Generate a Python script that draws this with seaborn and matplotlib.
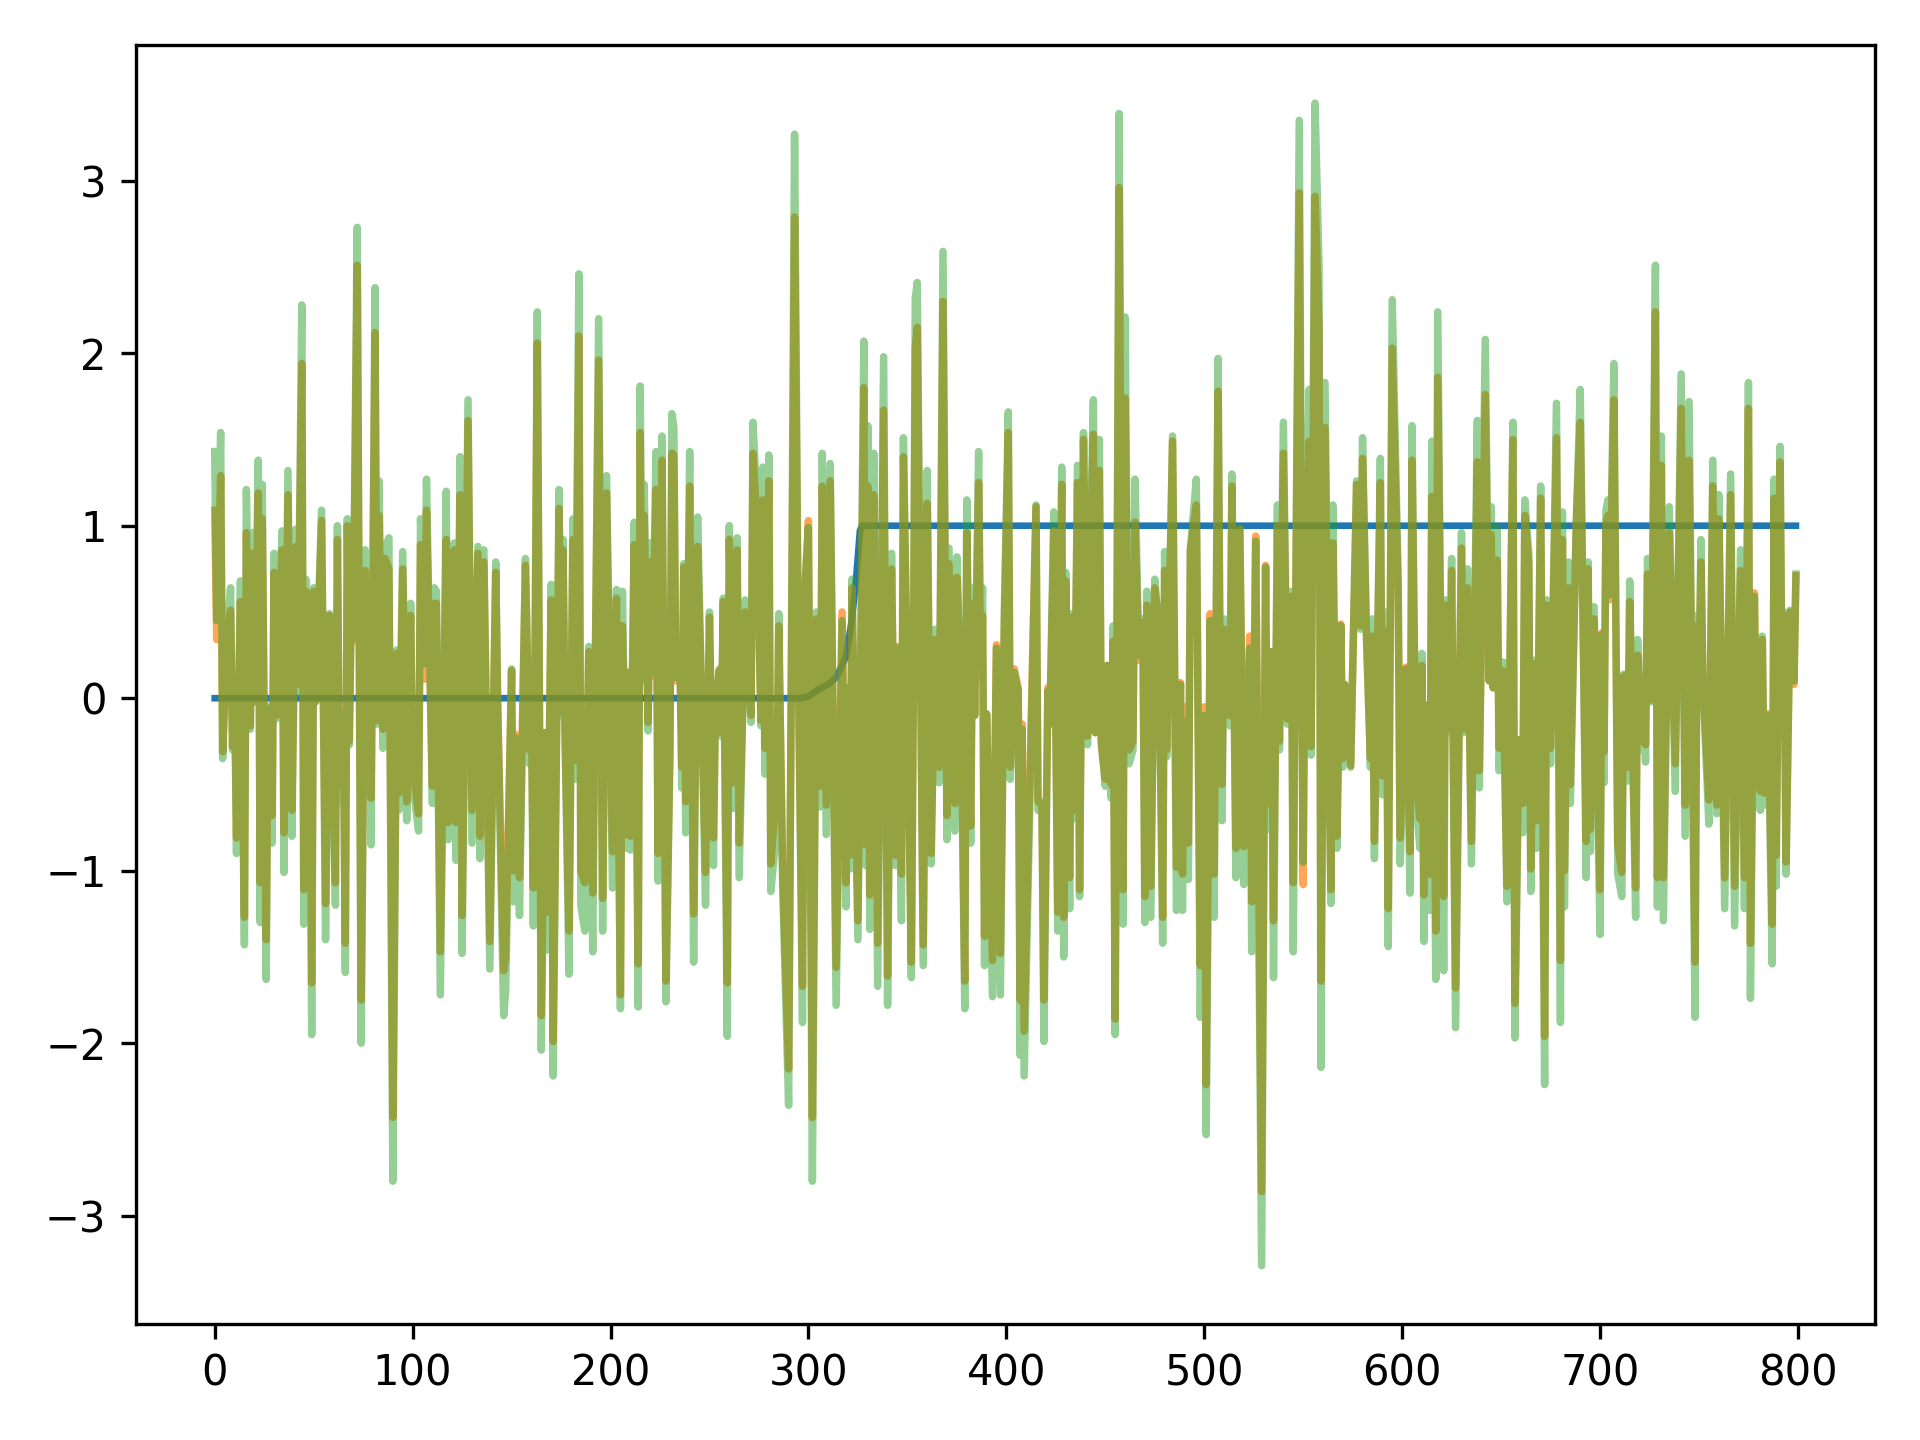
import matplotlib
matplotlib.use("Agg")
import matplotlib.pyplot as plt
import seaborn as sns

step_x = [0, 296, 300, 305, 310, 314, 319, 322, 324, 326, 327, 799]
step_y = [0, 0, 0.01, 0.05, 0.08, 0.12, 0.24, 0.46, 0.68, 0.97, 1, 1]

noise_x = [
0,1,3,4,6,8,9,10,11,13,15,16,
18,19,20,22,23,24,26,27,29,30,31,33,
34,35,37,39,41,42,44,45,46,48,49,50,
51,54,56,58,61,62,63,65,66,67,68,69,
70,72,74,76,77,78,79,81,82,83,85,86,
88,90,92,93,95,97,99,100,103,104,106,107,
110,111,112,114,117,118,119,121,122,124,125,128,
130,133,134,136,139,142,143,146,147,150,151,152,
154,157,159,160,161,163,165,167,168,170,171,174,
175,176,177,179,181,182,184,185,187,189,191,194,
196,198,201,203,205,206,208,209,210,212,214,215,
216,217,219,220,221,223,224,226,228,230,231,232,
233,235,236,237,238,240,242,244,246,248,250,252,
253,255,256,257,259,260,262,264,265,268,271,272,
274,276,277,278,280,281,284,285,287,290,293,295,
297,298,300,302,304,306,307,309,311,314,317,319,
320,321,322,325,328,329,330,331,333,335,338,340,
342,344,345,347,348,350,352,353,354,355,358,360,
362,364,366,368,370,371,374,375,377,379,380,382,
383,384,386,387,388,389,390,393,395,397,399,401,
402,404,406,407,408,409,415,416,418,419,421,422,
424,426,428,429,430,432,433,434,436,437,439,441,
442,444,445,447,448,450,451,453,454,455,457,459,
460,462,464,465,467,469,470,471,473,475,477,479,
480,481,484,486,488,489,490,492,493,496,498,500,
501,503,505,507,508,509,510,513,514,516,518,520,
523,524,526,529,531,532,534,535,537,538,540,542,
544,545,548,550,551,553,554,556,558,559,561,564,
565,567,569,570,571,574,577,579,580,582,584,585,
586,589,590,592,593,595,598,599,602,604,605,607,
609,610,611,612,614,615,617,618,621,622,624,625,
627,630,631,633,635,638,639,642,644,645,646,648,
649,651,653,656,657,659,661,662,664,665,667,668,
670,672,673,675,678,680,681,682,684,685,688,690,
693,694,695,697,700,701,702,703,704,705,707,709,
711,712,714,715,718,719,721,722,723,724,726,728,
729,731,732,735,738,741,743,745,748,749,750,751,
752,755,757,759,760,763,766,768,771,773,775,776,
778,779,781,782,783,785,787,788,789,791,792,793,
794,796,798,799,
]

noisy_b = [
1.43,.45,1.54,-.35,.33,.64,-.30,.14,-.90,.68,-1.43,1.21,
-.18,.96,-.02,1.38,-1.30,1.24,-1.63,-.05,-.84,.84,-.12,.62,
.97,-1.01,1.32,-.80,.98,.04,2.28,-1.31,.69,.05,-1.95,.64,
-.02,1.09,-1.40,.49,-1.20,1.00,-.60,-.10,-1.59,1.04,-.27,.56,
.35,2.73,-2.00,.86,-.37,.55,-.85,2.38,-.15,1.26,-.29,.87,
.93,-2.80,.28,-.65,.85,-.71,.55,-.49,-.77,1.04,.20,1.27,
-.61,.64,.62,-1.72,1.20,-.82,.35,.90,-.94,1.40,-1.48,1.73,
-.84,.88,-.93,.86,-1.57,.79,-.05,-1.84,-1.70,.17,-1.18,-.23,
-1.26,.81,-.38,.0,-1.32,2.24,-2.04,-.20,-1.46,.66,-2.19,1.21,
-.10,.92,-.20,-1.60,1.04,-.47,2.46,-1.20,-1.35,.30,-1.47,2.20,
-1.35,1.29,-1.10,.63,-1.80,.62,-.87,.15,-.88,1.02,-1.79,1.81,
.12,1.24,-.19,.90,.15,1.43,-1.06,1.52,-1.76,-.34,1.65,1.57,
.12,.33,-.52,.78,-.78,1.43,-1.53,1.05,.0,-1.20,.50,-.97,
-.05,.17,-.22,.58,-1.96,1.00,-.64,.93,-1.04,.57,-.14,1.60,
1.12,-.16,1.34,-.44,1.41,-1.12,-.76,.49,-1.10,-2.36,3.27,.10,
-1.88,.62,.99,-2.80,.50,-.63,1.42,-.79,1.36,-1.78,.45,-1.21,
.06,-.99,.69,-1.40,2.07,-.97,1.58,-1.34,1.42,-1.67,1.98,-1.78,
.84,-.97,.29,-1.29,1.51,.10,-1.62,.0,2.32,2.41,-1.55,1.32,
-.96,.40,-.49,2.59,-.82,.87,-.77,.82,.10,-1.80,1.15,-.84,
.64,-.10,1.43,.20,.64,-1.55,-.09,-1.73,.29,-1.72,.49,1.66,
-.47,.15,.04,-2.07,-.18,-2.19,1.12,-.65,-.60,-1.99,.04,-.15,
1.08,-1.35,1.34,-1.50,.73,-1.22,.49,-.70,1.35,-1.15,1.54,-.27,
.65,1.73,-.20,1.50,-.25,-.51,.19,-.58,.42,-1.95,3.39,-1.31,
2.21,-.38,-.30,1.27,.25,.46,-1.30,.62,-1.27,.69,.42,-1.42,
.85,-.34,1.52,-1.23,.08,-1.23,-.14,-1.05,.86,1.27,-1.85,-.10,
-2.53,.45,-1.27,1.97,.20,-.71,.46,-.16,1.30,-1.04,.99,-1.08,
.29,-1.47,.91,-3.29,.76,-.76,.27,-1.62,1.12,-.30,1.60,-.15,
.62,-1.47,3.35,-.95,.65,1.79,-.33,3.45,2.50,-2.14,1.83,-1.19,
1.12,-.87,.42,-.40,.08,-.40,1.26,.40,1.51,.36,-.40,.46,
-.93,1.39,-.56,.50,-1.44,2.31,.68,-.96,.17,-1.13,1.58,-.58,
-.87,.26,-1.41,-.04,-1.23,1.49,-1.63,2.24,-1.58,.57,-.20,.81,
-1.91,.96,-.20,.75,-.96,1.61,-.52,2.08,.10,1.11,.06,.99,
-.42,.21,-1.18,1.60,-1.97,-.24,-.78,1.15,.84,-1.12,.22,-.87,
1.23,-2.24,.57,-.38,1.71,-1.88,1.08,-1.21,.79,-.61,1.01,1.79,
-1.04,.79,-.89,.53,-1.37,.37,-.49,1.09,1.15,.60,1.94,-1.02,
-1.15,.14,-.48,.68,-1.27,.34,-.30,.12,-.37,.81,-.02,2.51,
-1.21,1.52,-1.29,1.11,-.54,1.88,-.80,1.72,-1.85,.48,.06,.92,
.08,-.73,1.38,-.67,1.18,-1.22,1.30,-1.32,.86,-1.22,1.83,-1.74,
.59,-.29,-.65,.36,-.62,-.10,-1.54,1.27,-1.09,1.46,-.05,.50,
-1.02,.51,.10,.72,
]

noisy_a = [
1.09,.34,1.29,-.31,.30,.51,-.28,.12,-.81,.56,-1.27,.96,
-.16,.84,-.02,1.19,-1.07,1.04,-1.40,-.06,-.68,.73,-.10,.58,
.86,-.78,1.18,-.65,.88,.08,1.94,-1.11,.62,.06,-1.65,.62,
-.02,1.03,-1.19,.48,-1.07,.92,-.50,-.10,-1.42,1.00,-.25,.54,
.33,2.51,-1.75,.74,-.33,.53,-.58,2.12,-.13,1.06,-.18,.81,
.75,-2.43,.26,-.55,.75,-.60,.48,-.40,-.67,.89,.11,1.09,
-.51,.55,.55,-1.47,.92,-.72,.33,.86,-.72,1.18,-1.26,1.61,
-.65,.84,-.80,.79,-1.41,.73,-.05,-1.58,-1.50,.16,-1.00,-.21,
-1.04,.77,-.30,.0,-1.10,2.06,-1.84,-.20,-1.24,.57,-1.99,1.10,
-.08,.86,-.18,-1.35,.92,-.36,2.10,-1.00,-1.07,.27,-1.13,1.96,
-1.16,1.19,-.89,.58,-1.72,.42,-.79,.15,-.80,.89,-1.54,1.54,
.10,1.06,-.14,.79,.13,1.21,-.90,1.38,-1.64,-.30,1.42,1.41,
.10,.30,-.40,.76,-.60,1.23,-1.25,.88,.0,-1.01,.47,-.81,
-.05,.16,-.20,.56,-1.65,.92,-.49,.86,-.84,.50,-.10,1.42,
1.01,-.13,1.15,-.29,1.26,-.96,-.51,.42,-1.01,-2.15,2.79,.08,
-1.67,.56,1.03,-2.43,.46,-.51,1.23,-.62,1.26,-1.56,.50,-1.07,
.06,-.91,.64,-1.29,1.80,-.85,1.23,-1.14,1.18,-1.42,1.67,-1.61,
.75,-.91,.30,-1.02,1.40,.08,-1.53,.0,2.03,2.15,-1.43,1.13,
-.90,.34,-.40,2.30,-.68,.78,-.61,.70,.09,-1.64,.96,-.74,
.55,-.10,1.25,.13,.48,-1.38,-.09,-1.52,.31,-1.48,.43,1.54,
-.40,.17,.06,-1.75,-.15,-1.93,1.11,-.60,-.62,-1.75,.06,-.15,
.97,-1.24,1.24,-1.27,.68,-1.04,.47,-.65,1.25,-1.11,1.50,-.22,
.62,1.53,-.20,1.32,-.27,-.47,.19,-.50,.33,-1.86,2.96,-1.11,
1.74,-.30,-.25,1.02,.22,.44,-1.15,.54,-1.09,.64,.43,-1.27,
.74,-.30,1.49,-.98,.09,-1.02,-.05,-.84,.86,1.12,-1.55,-.05,
-2.24,.49,-1.02,1.78,.18,-.50,.40,-.10,1.23,-.87,.98,-.86,
.36,-1.18,.94,-2.86,.77,-.61,.27,-1.29,1.00,-.25,1.42,-.12,
.59,-1.07,2.93,-1.08,.60,1.49,-.28,2.91,2.15,-1.64,1.57,-1.11,
.90,-.80,.43,-.35,.08,-.39,1.24,.42,1.39,.35,-.35,.36,
-.83,1.25,-.45,.39,-1.22,2.03,.62,-.81,.18,-.89,1.38,-.48,
-.70,.19,-1.14,-.04,-1.02,1.17,-1.35,1.86,-1.15,.54,-.18,.74,
-1.68,.87,-.18,.64,-.83,1.37,-.42,1.76,.10,.95,.06,.80,
-.29,.16,-1.09,1.50,-1.77,-.24,-.61,1.06,.78,-.99,.20,-.71,
1.16,-1.96,.54,-.29,1.51,-1.52,.92,-1.00,.64,-.50,1.01,1.60,
-.83,.75,-.76,.46,-1.11,.38,-.31,1.01,1.06,.57,1.73,-.85,
-1.01,.13,-.40,.56,-1.10,.25,-.25,.06,-.27,.72,-.01,2.24,
-1.04,1.35,-1.04,.96,-.38,1.68,-.62,1.38,-1.53,.42,.06,.79,
.09,-.59,1.23,-.62,1.04,-1.04,1.18,-1.09,.74,-1.04,1.68,-1.42,
.61,-.25,-.54,.34,-.55,-.09,-1.31,1.16,-.91,1.37,-.05,.48,
-.95,.50,.08,.71,
]

fig, ax = plt.subplots(figsize=(6.4, 4.8), dpi=300)
sns.lineplot(x=step_x, y=step_y, ax=ax, color="#1f77b4", estimator=None, errorbar=None, linewidth=1.6)
sns.lineplot(x=noise_x, y=noisy_a, ax=ax, color="#ff7f0e", alpha=0.7, estimator=None, errorbar=None, linewidth=1.8)
sns.lineplot(x=noise_x, y=noisy_b, ax=ax, color="#2ca02c", alpha=0.5, estimator=None, errorbar=None, linewidth=1.8)
fig.tight_layout()
fig.savefig("out.png", dpi=300)
